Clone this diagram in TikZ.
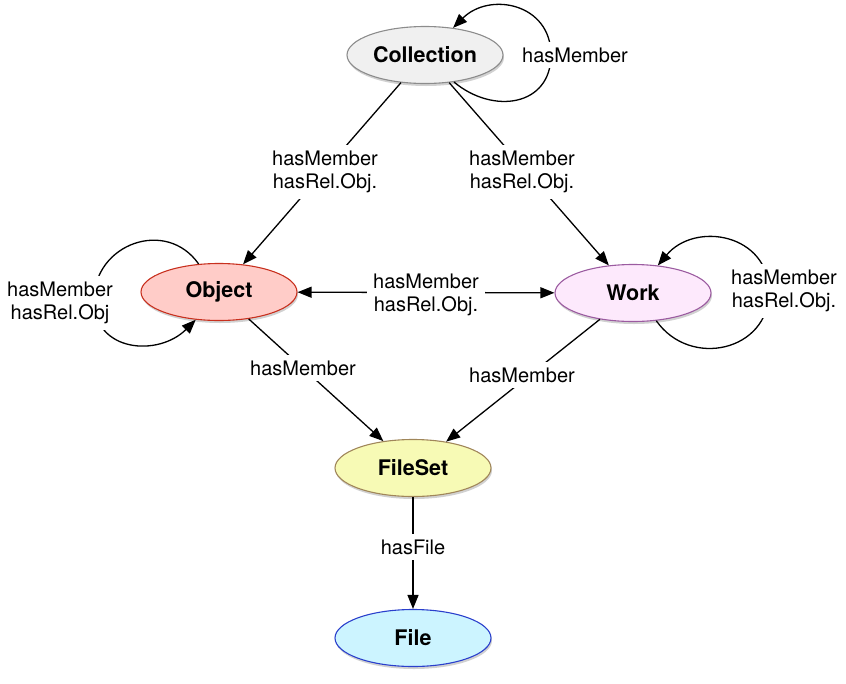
\documentclass[tikz,border=0pt]{standalone}
\usepackage{fontspec}
\setmainfont{TeX Gyre Heros}
\usetikzlibrary{arrows.meta,shapes.geometric,shadows}
\definecolor{collfill}{HTML}{F0F0F0}
\definecolor{colldraw}{HTML}{8C8C8C}
\definecolor{objfill}{HTML}{FFCCC8}
\definecolor{objdraw}{HTML}{C8301E}
\definecolor{workfill}{HTML}{FDE9FC}
\definecolor{workdraw}{HTML}{9B5BA0}
\definecolor{fsfill}{HTML}{F7FAB5}
\definecolor{fsdraw}{HTML}{A0865A}
\definecolor{filefill}{HTML}{CCF4FF}
\definecolor{filedraw}{HTML}{2A3FCC}
\begin{document}
\begin{tikzpicture}[x=1pt,y=-1pt,
  ent/.style={ellipse, draw, line width=1.1pt, minimum width=156pt, minimum height=57pt,
    inner sep=0pt, font=\fontsize{21.5}{25}\selectfont\bfseries,
    drop shadow={shadow xshift=1pt, shadow yshift=-2.5pt, opacity=0.3, fill=black!60}},
  lbl/.style={fill=white, inner sep=6pt, align=center, font=\fontsize{20}{23}\selectfont},
  conn/.style={line width=1.3pt, -{Triangle[length=14pt,width=11pt]}},
  both/.style={line width=1.3pt, {Triangle[length=14pt,width=11pt]}-{Triangle[length=14pt,width=11pt]}}]
\useasboundingbox (0,0) rectangle (846,683);

\node[ent, fill=collfill, draw=colldraw] (coll) at (425,55) {Collection};
\node[ent, fill=objfill, draw=objdraw] (obj) at (219,292) {Object};
\node[ent, fill=workfill, draw=workdraw] (work) at (633,293) {Work};
\node[ent, fill=fsfill, draw=fsdraw] (fs) at (413,468) {FileSet};
\node[ent, fill=filefill, draw=filedraw] (file) at (413,638) {File};

\coordinate (cl) at (551,55);
\coordinate (ol) at (94,300);
\coordinate (wl) at (769,292);

\draw[conn] (coll) -- (obj);
\draw[conn] (coll) -- (work);
\draw[both] (obj) -- (work);
\draw[conn] (obj) -- (fs);
\draw[conn] (work) -- (fs);
\draw[conn] (fs) -- (file);

\draw[conn] (coll.-43) to[out=-40,in=-90,looseness=1.3] (cl) to[out=90,in=45,looseness=1.3] (coll.44);
\draw[conn] (obj.126) to[out=125,in=90,looseness=1.3] (ol) to[out=-90,in=-135,looseness=1.3] (obj.230);
\draw[conn] (work.-50) to[out=-55,in=-90,looseness=1.3] (wl) to[out=90,in=50,looseness=1.3] (work.48);

\node[lbl] (lcl) at (575,55) {hasMember};
\node[lbl] (lco) at (325,172) {hasMember\\hasRel.Obj.};
\node[lbl] (lcw) at (522,172) {hasMember\\hasRel.Obj.};
\node[lbl] (low) at (426,295) {hasMember\\hasRel.Obj.};
\node[lbl] (lol) at (60,303) {hasMember\\hasRel.Obj};
\node[lbl] (lwl) at (784,291) {hasMember\\hasRel.Obj.};
\node[lbl] (lof) at (303,368) {hasMember};
\node[lbl] (lwf) at (522,375) {hasMember};
\node[lbl] (lff) at (413,547) {hasFile};
\end{tikzpicture}
\end{document}
